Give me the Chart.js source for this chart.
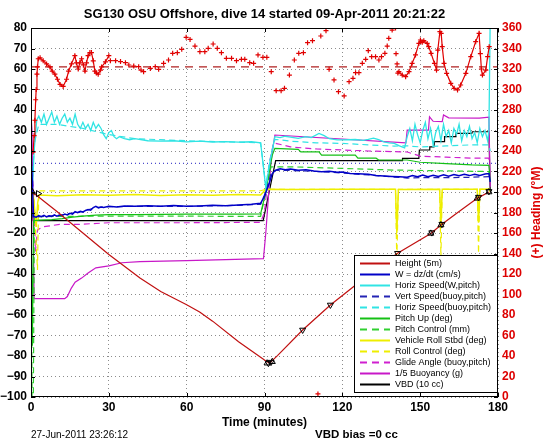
<!DOCTYPE html>
<html><head><meta charset="utf-8">
<script src="https://cdn.jsdelivr.net/npm/chart.js@4/dist/chart.umd.min.js"></script>
<style>html,body{margin:0;padding:0;background:#fff}canvas{display:block}</style>
</head><body>
<canvas id="c" width="546" height="442"></canvas>
<script>
// ---------- DATA (time in minutes, value on left axis unless noted) ----------
const xTicks = [0, 30, 60, 90, 120, 150, 180];
const yLeftRange = [-100, 80];
const yRightRange = [0, 360];

const height = [[0,0],[2,-1.5],[5,-4.5],[10,-9.5],[20,-20],[30,-30.5],[42,-42],[50,-48.5],[60,-55],[65,-58.5],[70,-63],[80,-73],[90,-82],[91.9,-83.5],[95,-79.8],[104.7,-67.3],[115.4,-55.1],[130,-40.5],[141.3,-29.9],[154.1,-20.2],[158,-16.1],[165,-9.5],[172,-3.1],[176.5,0]];
const heightMarksUp = [[0.5,0],[91,-83.5],[93,-82.8],[154.1,-20.2],[158,-16.1],[172,-3.1],[176.5,0]];
const heightMarksDown = [[91.5,-83.5],[92.5,-83],[104.7,-67.3],[115.4,-55.1],[141.3,-29.9],[154.5,-19.8],[158.4,-15.7],[172.5,-2.5],[176.5,0.3]];
const heightMarksRight = [[2.8,-0.8]];

const wSpeed = [[0,20],[0.4,8],[1,-12],[2,-12.3],[3,-11.5],[4,-12],[5,-11.4],[6,-12.1],[7,-11.6],[8,-11.9],[9,-11.2],[10,-11.8],[11,-11.3],[12,-11.5],[13,-10.8],[14,-11.2],[15,-10.4],[16,-10.8],[17,-9.6],[18,-10.1],[19,-9.4],[20,-9.8],[21,-9.0],[22,-8.6],[23,-8.9],[24,-7.6],[25,-7.0],[26,-7.8],[27,-7.3],[28,-7.6],[30,-7.0],[33,-7.3],[36,-6.8],[40,-7.0],[45,-6.7],[50,-6.9],[55,-6.6],[60,-7.0],[65,-6.8],[70,-6.5],[75,-6.7],[80,-6.4],[85,-6.0],[88.5,-5.5],[90,-2],[91.5,3],[93,9],[94.3,10.7],[96,11.3],[98,10.9],[100,11.2],[103,10.6],[106,10.9],[109,10.3],[112,9.9],[115,10.1],[118,9.6],[120,9.8],[123,9.0],[126,8.9],[130,8.6],[133,8.0],[136,7.8],[139,7.6],[142,7.4],[145,7.2],[147,8.0],[149,7.5],[151,8.3],[153,7.4],[155,8.2],[157,7.6],[159,8.4],[161,7.7],[163,8.5],[165,7.9],[167,8.6],[169,8.0],[171,8.7],[173,8.1],[175,8.8],[176.5,9],[177,5]];
const vertSpeed = [[0,0],[0.6,-12],[3,-12],[10,-11.5],[15,-10.5],[20,-9.5],[25,-7.5],[30,-7.2],[40,-7],[60,-7],[80,-6.5],[88.5,-6],[90.5,0],[92.5,9],[94,10.5],[100,10.5],[110,10],[120,9.3],[130,8.3],[140,7.3],[145,6.8],[150,7],[160,7],[170,7.2],[176.5,7.5],[177,5]];
const horizSpeed = [[0,10],[0.5,0],[1.2,20],[2.2,35],[3,37],[4,34],[5,38],[6,33],[7,36],[8,39],[9,34],[10,37],[11,33],[12,36],[13,38],[14,34],[15,36],[16,33],[17,38],[18,33],[19,31],[20,34],[21,31],[22,33],[23,30],[24,34],[25,31],[26,33],[27,31],[28,28],[29,26],[30,29],[31,30],[32,27],[33,26],[34,27],[36,26],[38,25.5],[40,26],[45,25],[50,24.8],[55,25],[60,24.5],[65,24.8],[70,24.4],[75,24.6],[80,24.3],[85,24.5],[88.5,24],[90.5,2],[92,14],[94,27],[96,26.5],[98,27.2],[100,26.8],[103,26.2],[106,27],[108,26.5],[111,28.6],[113,27.5],[115,26],[118,25.4],[120,25.4],[125,25.6],[128,25.2],[130,25.7],[132,26.3],[134,25.5],[136,24.5],[138,24],[140,23.7],[142,22.5],[144,21.5],[145,27],[146,31],[147,25],[148,33],[149,28],[150,24],[151,30],[152,34],[153,26],[154,31],[155,23],[156,29],[157,32],[158,25],[159,33],[160,27],[161,30],[162,24],[163,31],[164,28],[165,33],[166,25],[167,30],[168,27],[169,32],[170,26],[171,29],[172,24],[173,31],[174,27],[175,30],[176,25],[176.5,30],[177,85]];
const horizSpeedBuoy = [[0,0],[1.5,25],[3,33],[10,33],[20,31],[30,28],[40,26],[60,25],[88.5,24],[90.5,3],[92,15],[94,25.7],[100,24.8],[110,24],[120,23.7],[130,23],[140,22.4],[145,22.5],[150,22],[160,22.5],[170,23],[176.5,23],[177,20]];
const pitchUp = [[0,0],[0.5,-75],[1,-14],[3,-13.7],[8,-13.5],[12,-13],[16,-12.3],[20,-11.8],[25,-11.3],[30,-11],[40,-11],[60,-10.8],[80,-10.8],[88.5,-10.7],[90.5,0],[93,18],[94,21.3],[103,20.8],[104,19.6],[111,19.6],[112,18],[125,18],[126,16.5],[133,16.5],[134,15.6],[145,15.6],[150,14.5],[160,13.8],[170,13.2],[176.5,13],[177,5]];
const pitchControl = [[0,0],[0.4,-100],[0.9,-100],[1.3,-12],[5,-12],[20,-11.8],[40,-11.8],[60,-11.8],[88.5,-11.9],[90.5,0],[92.5,12.3],[100,12.3],[120,11.5],[140,10.7],[160,10.3],[176.5,10],[177,5]];
const vehicleRoll = [[0,3],[1,-3],[2,-17],[2.6,-5],[3.2,-1.5],[10,-1.8],[20,-1.3],[30,-1.6],[40,-1.2],[50,-1.7],[60,-1.3],[70,-1.6],[80,-1.2],[88.5,-1.5],[90.5,1.3],[100,1.2],[120,1.3],[140.5,1.3],[141,-20],[141.6,1.2],[157.5,1.3],[158,-16],[158.5,1.3],[172,1.4],[172.5,-15],[173,1.3],[176.5,1.5],[177,0]];
const rollControl = [[0,0],[1,0],[2.5,-38],[3,0.5],[88.5,0.6],[90.5,1.3],[140.5,1.3],[141,-34],[141.6,1.3],[157.5,1.3],[158,-32],[158.5,1.3],[172,1.3],[172.5,-30],[173,1.3],[176.5,1.3]];
const glideAngle = [[0,30],[1,0],[1.7,-29],[2.5,-18.5],[4.6,-17],[11,-15.8],[18,-15.8],[30,-15],[60,-15],[88.5,-14.8],[90,-10],[92,15],[93.5,24],[100,22],[110,21],[120,20.5],[130,20],[140,19.7],[145,19.5],[150,17.5],[160,17],[170,16.5],[176.5,16.5],[177,5]];
const buoyancy = [[0,37],[0.4,30],[1.2,-52],[5,-52],[10,-52],[13,-52],[14,-51],[15.5,-47],[17,-44],[19.5,-42],[22,-39.5],[25,-37],[30,-36],[35,-34.5],[42,-34],[60,-33.5],[75,-33],[89.6,-32.5],[90.5,-20],[92.5,15],[94,27.8],[144.5,24],[145,30.2],[153.2,30.2],[153.6,36.7],[155,34.5],[158.5,34.3],[159,37.6],[161,36.2],[172.8,36],[176.5,36.5],[177,2.6]];
const vbd = [[0,0],[0.8,-14],[30,-14],[60,-14],[89.5,-14],[94.3,15.3],[143,15.3],[143.2,16.4],[149.5,16.4],[149.7,20.5],[153.5,20.5],[153.7,22],[155.3,22],[155.5,24.6],[159.2,24.6],[159.4,27],[163.6,27],[163.8,28.6],[169.9,28.6],[170.1,29.4],[176.5,29.4],[177,0]];
const wTargetLine = [[0,14],[180,14]];

// heading (right axis, degrees)
const headingDenseDive = [[0.8,239],[1.2,255],[1.5,270],[1.8,290],[2,300],[2.3,315],[2.5,322],[2.8,330],[3.5,331],[4.7,328],[6,325],[7.3,322],[8.2,318],[9.2,315],[10.2,310],[11.2,305],[12.4,303],[13.7,310],[14.5,318],[15.6,325],[16.9,333],[17.5,326],[18.2,320],[18.8,326],[19.5,330],[20.2,324],[20.8,318],[21.4,326],[22,333],[22.7,336],[23.3,336],[24,328],[24.6,318],[25.2,316],[25.9,315],[26.8,319],[27.2,322],[28.7,327],[30,333]];
const headingSparse = [[30.6,328.1],[32.6,328.1],[34.5,327.2],[36.4,326.2],[37.7,323.9],[39.6,322.9],[41.5,322.3],[42.4,319.0],[43.4,317.4],[46.0,320.6],[47.9,322.3],[49.2,319.7],[51.1,325.5],[53.0,328.8],[54.6,335.3],[56.4,335.9],[58.1,339.2],[59.8,350.9],[61.3,348.9],[63.2,342.4],[65.1,336.9],[67.0,336.9],[68.3,340.2],[70.2,344.4],[71.8,340.2],[73.4,335.9],[75.3,330.4],[77.3,330.4],[79.2,328.1],[81.1,329.4],[82.4,329.4],[84.3,326.2],[85.8,325.5],[87.5,333.7],[89.4,331.4],[90.9,331.4],[92.6,317.4],[94.5,298.9],[96.4,298.9],[97.7,301.1],[99.6,314.1],[101.5,328.8],[103.2,335.3],[105.0,335.9],[106.6,345.7],[108.5,347.6],[110.6,3],[111.7,352.2],[113.7,357.4],[114.9,319.7],[116.8,309.3],[118.5,297.9],[120.7,293.7],[122.6,307.6],[124.1,310.9],[125.1,316.4],[126.4,316.4],[127.7,325.5],[129.0,329.4],[130.0,337.9],[131.3,332.0],[132.8,332.0],[134.1,328.8],[135.1,332.0],[136.4,335.3],[137.3,342.4],[137.9,349.9],[139.2,358.0],[140.5,360],[140.7,335],[141.1,325]];
const headingDenseClimb = [[141.4,316],[141.8,317.4],[143.1,314.1],[144.4,312.5],[145.7,317.4],[146.9,325.5],[148.2,333.7],[149.5,345],[150.1,348.3],[150.8,346],[151.4,347.6],[152.7,345],[153.3,341.8],[154.2,335.3],[155.5,325.5],[156.3,319],[156.8,338.5],[157.6,356.4],[158.1,354.8],[158.5,341.8],[159.2,325.5],[160.2,315.8],[161.8,306],[163.1,301.1],[164.4,299.5],[165.6,304.4],[167.6,315.8],[169.5,332],[171.4,346.7],[172.7,354.8],[173.2,335],[173.6,320],[174,314.1],[175.3,319],[176,332],[176.6,341.8]];
const headingMean = [[0,322],[180,322]];

// ---------- CHART ----------
const pts = a => a.map(p => ({x: p[0], y: p[1]}));
function ser(label, arr, color, extra) {
  return Object.assign({label, data: pts(arr), showLine: true, borderColor: color, backgroundColor: color,
    borderWidth: 1.2, pointRadius: 0, yAxisID: 'y', inLegend: true, tension: 0}, extra || {});
}
const RED = '#dd0000';
const datasets = [
  ser('', heightMarksUp, '#000', {showLine:false, pointRadius:3.5, pointStyle:'triangle', backgroundColor:'rgba(0,0,0,0)', borderWidth:1, inLegend:false}),
  ser('', heightMarksDown, '#000', {showLine:false, pointRadius:3.5, pointStyle:'triangle', rotation:180, backgroundColor:'rgba(0,0,0,0)', borderWidth:1, inLegend:false}),
  ser('', heightMarksRight, '#000', {showLine:false, pointRadius:3.5, pointStyle:'triangle', rotation:90, backgroundColor:'rgba(0,0,0,0)', borderWidth:1, inLegend:false}),
  ser('', headingDenseDive, '#e00000', {yAxisID:'y2', pointRadius:2.5, pointStyle:'cross', borderWidth:1.2, inLegend:false}),
  ser('', headingSparse, '#e00000', {yAxisID:'y2', showLine:false, pointRadius:2.5, pointStyle:'cross', borderWidth:1.2, inLegend:false}),
  ser('', headingDenseClimb, '#e00000', {yAxisID:'y2', pointRadius:2.5, pointStyle:'cross', borderWidth:1.2, inLegend:false}),
  ser('', headingMean, '#b02020', {yAxisID:'y2', borderDash:[8,6], borderWidth:1.2, inLegend:false}),
  ser('Height (5m)', height, '#c01010'),
  ser('W = dz/dt (cm/s)', wSpeed, '#0000c8', {borderWidth:1.5}),
  ser('Horiz Speed(W,pitch)', horizSpeed, '#30e4e4', {borderWidth:1.3}),
  ser('Vert Speed(buoy,pitch)', vertSpeed, '#2424b4', {borderDash:[6,4]}),
  ser('Horiz Speed(buoy,pitch)', horizSpeedBuoy, '#30e4e4', {borderDash:[6,4]}),
  ser('Pitch Up (deg)', pitchUp, '#14c014'),
  ser('Pitch Control (mm)', pitchControl, '#30d030', {borderDash:[6,4]}),
  ser('Vehicle Roll Stbd (deg)', vehicleRoll, '#eeee00', {borderWidth:1.5}),
  ser('Roll Control (deg)', rollControl, '#eeee00', {borderDash:[6,4]}),
  ser('Glide Angle (buoy,pitch)', glideAngle, '#d020d0', {borderDash:[6,4]}),
  ser('1/5 Buoyancy (g)', buoyancy, '#c818c8'),
  ser('VBD (10 cc)', vbd, '#000000'),
  ser('', wTargetLine, '#2020c0', {borderDash:[1,3], borderWidth:1, inLegend:false})
];

const FONT = "'Liberation Sans', Arial, Helvetica, sans-serif";
const minus = v => String(v).replace('-', '\u2212');

const framePlugin = {
  id: 'frame',
  afterDatasetsDraw(chart) {
    const {ctx, chartArea: a, scales} = chart;
    ctx.save();
    ctx.strokeStyle = '#000'; ctx.lineWidth = 1;
    ctx.strokeRect(Math.round(a.left)+0.5, Math.round(a.top)+0.5, Math.round(a.right-a.left)-1, Math.round(a.bottom-a.top)-1);
    ctx.beginPath();
    const tl = 4;
    xTicks.forEach(v => { const px = Math.round(scales.x.getPixelForValue(v))+0.5;
      ctx.moveTo(px, a.bottom); ctx.lineTo(px, a.bottom-tl); ctx.moveTo(px, a.top); ctx.lineTo(px, a.top+tl); });
    for (let v = yLeftRange[0]; v <= yLeftRange[1]; v += 10) { const py = Math.round(scales.y.getPixelForValue(v))+0.5;
      ctx.moveTo(a.left, py); ctx.lineTo(a.left+tl, py); ctx.moveTo(a.right, py); ctx.lineTo(a.right-tl, py); }
    ctx.stroke();
    ctx.restore();
  },
  afterDraw(chart) {
    const {ctx, chartArea: a} = chart;
    // legend
    const items = chart.data.datasets.filter(d => d.inLegend);
    const lw = 143, rowH = 11;
    const lh = items.length*rowH + 5;
    const x0 = Math.round(a.right) - lw - 1, y0 = Math.round(a.bottom) - lh - 5;
    ctx.save();
    ctx.fillStyle = '#fff'; ctx.fillRect(x0, y0, lw, lh);
    ctx.strokeStyle = '#000'; ctx.lineWidth = 1; ctx.strokeRect(x0+0.5, y0+0.5, lw, lh);
    ctx.font = '9px ' + FONT; ctx.textBaseline = 'middle'; ctx.textAlign = 'left';
    items.forEach((d, i) => {
      const y = y0 + 8.5 + i*rowH;
      ctx.beginPath(); ctx.strokeStyle = d.borderColor; ctx.lineWidth = 2;
      ctx.setLineDash(d.borderDash ? [7,5] : []);
      ctx.moveTo(x0+6, y); ctx.lineTo(x0+36, y); ctx.stroke();
      ctx.setLineDash([]);
      ctx.fillStyle = '#000'; ctx.fillText(d.label, x0+41, y+0.5);
    });
    // right axis title
    ctx.save();
    ctx.translate(537, (a.top + a.bottom)/2);
    ctx.rotate(-Math.PI/2);
    ctx.fillStyle = RED; ctx.font = 'bold 12px ' + FONT; ctx.textAlign = 'center'; ctx.textBaseline = 'middle';
    ctx.fillText('(+) Heading (\u00B0M)', 0, 0);
    ctx.restore();
    // footer texts
    ctx.fillStyle = '#000'; ctx.textBaseline = 'middle'; ctx.textAlign = 'left';
    ctx.font = '10px ' + FONT; ctx.fillText('27-Jun-2011 23:26:12', 31, 435);
    ctx.font = 'bold 11.5px ' + FONT; ctx.fillText('VBD bias =0 cc', 315, 435);
    ctx.restore();
  }
};

new Chart(document.getElementById('c'), {
  type: 'scatter',
  data: {datasets},
  options: {
    responsive: false, animation: false, devicePixelRatio: 1,
    layout: {padding: {left: 0, right: 0, top: 0, bottom: 0}},
    plugins: {
      legend: {display: false}, tooltip: {enabled: false},
      title: {display: true, fullSize: false, text: 'SG130 OSU Offshore, dive 14 started 09-Apr-2011 20:21:22',
        color: '#000', font: {family: FONT, size: 13, weight: 'bold'}, padding: {top: 6.5, bottom: 5.9}}
    },
    scales: {
      x: {type: 'linear', min: 0, max: 180,
        afterBuildTicks: s => { s.ticks = xTicks.map(v => ({value: v})); },
        afterFit: s => { s.height = 45; },
        ticks: {color: '#000', font: {family: FONT, size: 12, weight: 'bold'}, padding: 3, maxRotation: 0},
        grid: {color: '#8c8c8c', lineWidth: 1, drawTicks: false},
        border: {display: false, dash: [1,3]},
        title: {display: true, text: 'Time (minutes)', color: '#000', font: {family: FONT, size: 12, weight: 'bold'}, padding: {top: 0, bottom: 12}}
      },
      y: {type: 'linear', position: 'left', min: yLeftRange[0], max: yLeftRange[1],
        ticks: {stepSize: 10, color: '#000', font: {family: FONT, size: 12, weight: 'bold'}, padding: 4, callback: v => minus(v)},
        afterFit: s => { s.width = 31; },
        grid: {color: '#8c8c8c', lineWidth: 1, drawTicks: false},
        border: {display: false, dash: [1,3]}
      },
      y2: {type: 'linear', position: 'right', min: yRightRange[0], max: yRightRange[1],
        ticks: {stepSize: 20, color: RED, font: {family: FONT, size: 12, weight: 'bold'}, padding: 4},
        afterFit: s => { s.width = 48; },
        grid: {drawOnChartArea: false, drawTicks: false},
        border: {display: false}
      }
    }
  },
  plugins: [framePlugin]
});
</script>
</body></html>
